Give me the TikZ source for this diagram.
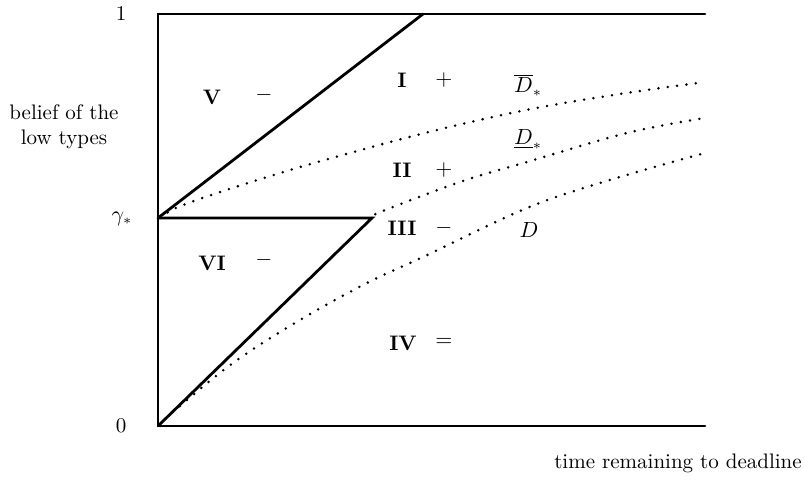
\documentclass[tikz,border=0pt]{standalone}
\usetikzlibrary{calc}
\begin{document}
\begin{tikzpicture}[x=0.5pt,y=-0.5pt,
  every node/.style={font=\fontsize{10.5}{12.5}\selectfont, inner sep=0pt},
  solid line/.style={line width=1.4pt, line cap=round, line join=miter},
  dot curve/.style={line width=1.4pt, line cap=round, dash pattern=on 0pt off 4.7pt},
  region/.style={font=\fontsize{10.5}{12.5}\selectfont\bfseries},
  sign/.style={}]
\useasboundingbox (0,0) rectangle (805,480);
% frame coordinates
\coordinate (O) at (158,426);
\coordinate (T) at (158,14);
\coordinate (G) at (158,218);
\coordinate (TR) at (705,14);
\coordinate (BR) at (705,426);
\coordinate (A) at (423,14);
\coordinate (K) at (372,218);
% solid lines
\draw[solid line] (TR) -- (T) -- (O) -- (BR);
\draw[solid line] (G) -- (A);
\draw[solid line] (G) -- (K) -- (O);
% dotted curves
\draw[dot curve] plot[smooth, tension=0.6] coordinates {(160,218) (183,205) (267,177) (350,153) (433,131) (526,110) (620,94) (705,82)};
\draw[dot curve] plot[smooth, tension=0.6] coordinates {(372,218) (378,213) (460,182) (527,162) (627,133) (705,118)};
\draw[dot curve] plot[smooth, tension=0.6] coordinates {(160,426) (172,413) (233,363) (300,320) (367,283) (423,257) (527,208) (610,180) (705,153)};
% axis labels
\node (one) at (121,14) {1};
\node (gam) at (122,219) {$\gamma_*$};
\node (zero) at (121,426) {0};
\node[align=center] (ylab) at (64,127) {belief of the\\low types};
\node (xlab) at (678,463) {time remaining to deadline};
% regions
\node[region] (rV) at (212,97) {V};
\node[sign] (sV) at (264,95) {$-$};
\node[region] (rI) at (402,80) {I};
\node[sign] (sI) at (444,80) {$+$};
\node (Dbar) at (528,85) {$\overline{D}_*$};
\node[region] (rII) at (402,170) {II};
\node[sign] (sII) at (444,170) {$+$};
\node (Dund) at (528,140) {$\underline{D}_*$};
\node[region] (rIII) at (402,228) {III};
\node[sign] (sIII) at (444,228) {$-$};
\node (Dlab) at (529,230) {$D$};
\node[region] (rVI) at (212,263) {VI};
\node[sign] (sVI) at (264,260) {$-$};
\node[region] (rIV) at (403,343) {IV};
\node[sign] (sIV) at (444,342) {$=$};
\end{tikzpicture}
\end{document}
